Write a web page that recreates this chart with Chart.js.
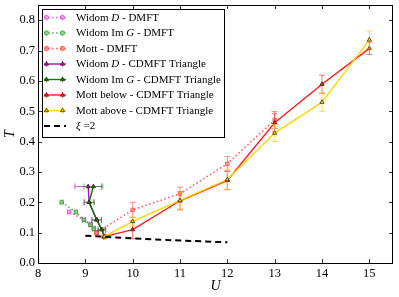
<!DOCTYPE html>
<html>
<head>
<meta charset="utf-8">
<script src="https://cdn.jsdelivr.net/npm/chart.js@4.4.0/dist/chart.umd.min.js"></script>
<style>
  html, body { margin: 0; padding: 0; background: #fff; }
  #wrap { width: 399px; height: 297px; }
</style>
</head>
<body>
<div id="wrap"><canvas id="phase" width="399" height="297"></canvas></div>
<script>
// tick values
const X_TICKS = [8, 9, 10, 11, 12, 13, 14, 15];
const Y_TICKS = [0.0, 0.1, 0.2, 0.3, 0.4, 0.5, 0.6, 0.7, 0.8];

// Widom D - DMFT
const WD_DMFT_U = [8.66, 8.97, 9.11, 9.18, 9.24];
const WD_DMFT_T = [0.168, 0.142, 0.126, 0.113, 0.100];
const WD_DMFT_XERR = [0.03, 0.03, 0.03, 0.03, 0.03];
// Widom Im G - DMFT
const WG_DMFT_U = [8.50, 8.80, 8.97, 9.11, 9.18, 9.24];
const WG_DMFT_T = [0.200, 0.168, 0.142, 0.126, 0.113, 0.100];
const WG_DMFT_XERR = [0.03, 0.03, 0.03, 0.03, 0.03, 0.03];
// Mott - DMFT
const MOTT_DMFT_U = [9.24, 10, 11, 12, 13];
const MOTT_DMFT_T = [0.100, 0.175, 0.228, 0.327, 0.471];
const MOTT_DMFT_YERR = [0.005, 0.025, 0.022, 0.024, 0.028];
// Widom D - CDMFT Triangle
const WD_CDMFT_U = [9.06, 9.08, 9.24, 9.35, 9.40];
const WD_CDMFT_T = [0.252, 0.200, 0.142, 0.110, 0.087];
const WD_CDMFT_XERR = [0.28, 0.10, 0.10, 0.08, 0.02];
// Widom Im G - CDMFT Triangle
const WG_CDMFT_U = [9.17, 9.08, 9.24, 9.35, 9.40];
const WG_CDMFT_T = [0.252, 0.200, 0.142, 0.110, 0.087];
const WG_CDMFT_XERR = [0.20, 0.11, 0.10, 0.08, 0.02];
// Mott below / above - CDMFT Triangle
const MOTT_CDMFT_U = [9.40, 10, 11, 12, 13, 14, 15];
const MB_T = [0.087, 0.110, 0.205, 0.272, 0.462, 0.589, 0.707];
const MB_YERR = [0.005, 0.030, 0.030, 0.030, 0.030, 0.030, 0.020];
const MA_T = [0.087, 0.137, 0.206, 0.275, 0.428, 0.530, 0.735];
const MA_YERR = [0.005, 0.015, 0.028, 0.034, 0.028, 0.030, 0.030];
// xi = 2
const XI_U = [9, 10, 11, 12];
const XI_T = [0.090, 0.081, 0.074, 0.068];

const SERIF = '"Liberation Serif", "DejaVu Serif", serif';

function pts(xs, ys) {
    return xs.map(function (x, i) { return { x: x, y: ys[i] }; });
}

function dmft(label, xs, ys, line, fill, errCol, xerr, yerr) {
    return {
        label: label, data: pts(xs, ys), showLine: true,
        borderColor: line, borderWidth: 1.6, borderDash: [1.6, 2.4],
        pointStyle: 'rect', pointRadius: 2.4, pointBorderWidth: 1,
        pointBorderColor: line, pointBackgroundColor: fill,
        errColor: errCol, xerr: xerr, yerr: yerr
    };
}

function cdmft(label, xs, ys, line, errCol, xerr, yerr) {
    return {
        label: label, data: pts(xs, ys), showLine: true,
        borderColor: line, borderWidth: 1.4,
        pointStyle: 'triangle', pointRadius: 2.4, pointBorderWidth: 0.8,
        pointBorderColor: '#3a2a10', pointBackgroundColor: line,
        errColor: errCol, xerr: xerr, yerr: yerr
    };
}

var datasets = [
    dmft('Widom $D$ - DMFT', WD_DMFT_U, WD_DMFT_T, 'rgba(215,80,215,0.85)', 'rgba(240,170,240,0.7)', 'rgba(215,80,215,0.6)', WD_DMFT_XERR, null),
    dmft('Widom Im $G$ - DMFT', WG_DMFT_U, WG_DMFT_T, 'rgba(60,160,60,0.8)', 'rgba(150,200,150,0.6)', 'rgba(60,160,60,0.6)', WG_DMFT_XERR, null),
    dmft('Mott - DMFT', MOTT_DMFT_U, MOTT_DMFT_T, 'rgba(255,70,70,0.85)', 'rgba(255,160,160,0.7)', 'rgba(255,70,70,0.6)', null, MOTT_DMFT_YERR),
    cdmft('Widom $D$ - CDMFT Triangle', WD_CDMFT_U, WD_CDMFT_T, '#bf00bf', 'rgba(191,0,191,0.6)', WD_CDMFT_XERR, null),
    cdmft('Widom Im $G$ - CDMFT Triangle', WG_CDMFT_U, WG_CDMFT_T, '#0a7a0a', 'rgba(10,122,10,0.55)', WG_CDMFT_XERR, null),
    cdmft('Mott below - CDMFT Triangle', MOTT_CDMFT_U, MB_T, '#ff1a1a', 'rgba(255,26,26,0.6)', null, MB_YERR),
    cdmft('Mott above - CDMFT Triangle', MOTT_CDMFT_U, MA_T, '#ffd700', 'rgba(255,200,0,0.65)', null, MA_YERR),
    {
        label: '$ξ$ =2', data: pts(XI_U, XI_T), showLine: true,
        borderColor: '#000', borderWidth: 2, borderDash: [6, 4],
        pointRadius: 0
    }
];
// later series on top, like the original
datasets.forEach(function (d, i) { d.order = datasets.length - i; });

// error bars, drawn just before each series
var errorBars = {
    id: 'errorBars',
    beforeDatasetDraw: function (chart, args) {
        var ds = chart.data.datasets[args.index];
        if (!ds.xerr && !ds.yerr) return;
        var xs = chart.scales.x, ys = chart.scales.y, ctx = chart.ctx;
        var cap = 3;
        ctx.save();
        ctx.strokeStyle = ds.errColor;
        ctx.lineWidth = 1;
        ds.data.forEach(function (p, i) {
            var px = xs.getPixelForValue(p.x), py = ys.getPixelForValue(p.y);
            ctx.beginPath();
            if (ds.yerr) {
                var y0 = ys.getPixelForValue(p.y - ds.yerr[i]);
                var y1 = ys.getPixelForValue(p.y + ds.yerr[i]);
                ctx.moveTo(px, y0); ctx.lineTo(px, y1);
                ctx.moveTo(px - cap, y0); ctx.lineTo(px + cap, y0);
                ctx.moveTo(px - cap, y1); ctx.lineTo(px + cap, y1);
            }
            if (ds.xerr) {
                var x0 = xs.getPixelForValue(p.x - ds.xerr[i]);
                var x1 = xs.getPixelForValue(p.x + ds.xerr[i]);
                ctx.moveTo(x0, py); ctx.lineTo(x1, py);
                ctx.moveTo(x0, py - cap); ctx.lineTo(x0, py + cap);
                ctx.moveTo(x1, py - cap); ctx.lineTo(x1, py + cap);
            }
            ctx.stroke();
        });
        ctx.restore();
    }
};

// frame, inward ticks on all sides, axis titles
var frame = {
    id: 'frame',
    afterDatasetsDraw: function (chart) {
        var a = chart.chartArea, ctx = chart.ctx;
        var xs = chart.scales.x, ys = chart.scales.y;
        ctx.save();
        ctx.strokeStyle = '#000';
        ctx.lineWidth = 0.8;
        ctx.beginPath();
        X_TICKS.forEach(function (v) {
            var x = Math.round(xs.getPixelForValue(v)) + 0.5;
            ctx.moveTo(x, a.bottom); ctx.lineTo(x, a.bottom - 4);
            ctx.moveTo(x, a.top); ctx.lineTo(x, a.top + 4);
        });
        Y_TICKS.forEach(function (v) {
            var y = Math.round(ys.getPixelForValue(v)) + 0.5;
            ctx.moveTo(a.left, y); ctx.lineTo(a.left + 4, y);
            ctx.moveTo(a.right, y); ctx.lineTo(a.right - 4, y);
        });
        ctx.stroke();
        ctx.lineWidth = 1;
        ctx.strokeRect(a.left + 0.5, a.top + 0.5, a.right - a.left - 1, a.bottom - a.top);
        ctx.fillStyle = '#000';
        ctx.font = 'italic 14px ' + SERIF;
        ctx.textAlign = 'center';
        ctx.textBaseline = 'middle';
        ctx.fillText('U', (a.left + a.right) / 2, 286);
        ctx.translate(10, (a.top + a.bottom) / 2);
        ctx.rotate(-Math.PI / 2);
        ctx.fillText('T', 0, 0);
        ctx.restore();
    }
};

// matplotlib-like legend with line + two markers per entry
function drawRich(ctx, text, x, y, size) {
    var parts = text.split('$');
    parts.forEach(function (s, i) {
        ctx.font = (i % 2 ? 'italic ' : '') + size + 'px ' + SERIF;
        ctx.fillText(s, x, y);
        x += ctx.measureText(s).width;
    });
}

var legendBox = {
    id: 'legendBox',
    afterDraw: function (chart) {
        var ctx = chart.ctx;
        var bx = 42, by = 9, bw = 182, bh = 128;
        ctx.save();
        ctx.fillStyle = '#fff';
        ctx.fillRect(bx, by, bw, bh);
        ctx.strokeStyle = '#000';
        ctx.lineWidth = 1;
        ctx.strokeRect(bx + 0.5, by + 0.5, bw, bh);
        chart.data.datasets.forEach(function (ds, i) {
            var y = 17.5 + i * 15.5;
            var xa = 46.5, xb = 62.5;
            ctx.save();
            if (ds.errColor) {
                ctx.strokeStyle = ds.errColor;
                ctx.lineWidth = 1;
                ctx.beginPath();
                [xa, xb].forEach(function (x) {
                    ctx.moveTo(x, y - 3); ctx.lineTo(x, y + 3);
                });
                ctx.stroke();
            }
            ctx.strokeStyle = ds.borderColor;
            ctx.lineWidth = ds.borderWidth;
            ctx.setLineDash(ds.borderDash || []);
            ctx.beginPath();
            ctx.moveTo(44, y); ctx.lineTo(66, y);
            ctx.stroke();
            ctx.setLineDash([]);
            if (ds.pointRadius > 0) {
                ctx.fillStyle = ds.pointBackgroundColor;
                ctx.strokeStyle = ds.pointBorderColor;
                ctx.lineWidth = ds.pointBorderWidth;
                [xa, xb].forEach(function (x) {
                    Chart.helpers.drawPoint(ctx, {
                        pointStyle: ds.pointStyle, radius: ds.pointRadius,
                        rotation: 0, borderWidth: ds.pointBorderWidth
                    }, x, y);
                });
            }
            ctx.restore();
            ctx.fillStyle = '#000';
            ctx.textBaseline = 'middle';
            ctx.textAlign = 'left';
            drawRich(ctx, ds.label, 76, y + 0.5, 11);
        });
        ctx.restore();
    }
};

var options = {
    responsive: false,
    animation: false,
    layout: { padding: { top: 5, right: 6, left: 0, bottom: 0 } },
    scales: {
        x: {
            type: 'linear', min: 8, max: 15.5,
            afterBuildTicks: function (s) { s.ticks = X_TICKS.map(function (v) { return { value: v }; }); },
            afterFit: function (s) { s.height = 34; s.paddingLeft = 0; s.paddingRight = 0; },
            grid: { display: false, drawTicks: false },
            border: { display: false },
            ticks: {
                color: '#000', padding: 3, maxRotation: 0, autoSkip: false,
                font: { family: SERIF, size: 12.5 },
                callback: function (v) { return String(v); }
            }
        },
        y: {
            type: 'linear', min: 0, max: 0.85,
            afterBuildTicks: function (s) { s.ticks = Y_TICKS.map(function (v) { return { value: v }; }); },
            afterFit: function (s) { s.width = 38; s.paddingTop = 0; s.paddingBottom = 0; },
            grid: { display: false, drawTicks: false },
            border: { display: false },
            ticks: {
                color: '#000', padding: 3, autoSkip: false,
                font: { family: SERIF, size: 12.5 },
                callback: function (v) { return Number(v).toFixed(1); }
            }
        }
    },
    plugins: {
        legend: { display: false },
        tooltip: { enabled: false }
    }
};

var chart = new Chart(document.getElementById('phase'), {
    type: 'scatter',
    data: { datasets: datasets },
    options: options,
    plugins: [errorBars, frame, legendBox]
});
</script>
</body>
</html>
